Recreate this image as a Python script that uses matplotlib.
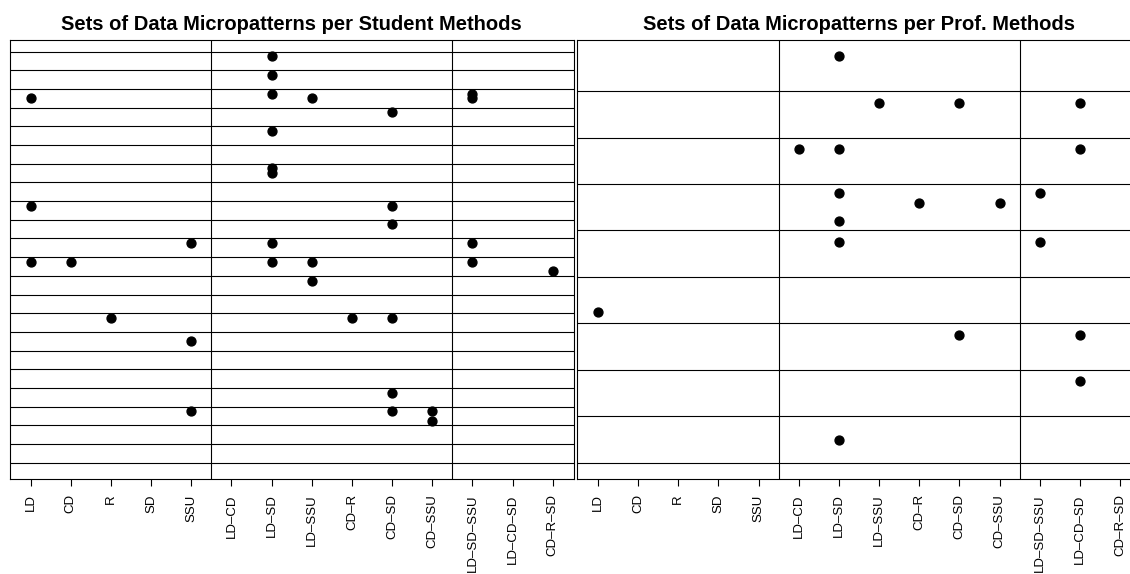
import numpy as np
import matplotlib.pyplot as plt

plt.rcParams['font.family'] = ['Liberation Sans', 'DejaVu Sans']

# micropattern categories on the x axis
patterns = ["LD", "CD", "R", "SD", "SSU",
            "LD\u2013CD", "LD\u2013SD", "LD\u2013SSU", "CD\u2013R", "CD\u2013SD", "CD\u2013SSU",
            "LD\u2013SD\u2013SSU", "LD\u2013CD\u2013SD", "CD\u2013R\u2013SD"]

# student methods: pattern of each point and method row it sits in
student_pat = ["LD", "LD", "LD",
               "CD",
               "R",
               "SSU", "SSU", "SSU",
               "LD\u2013SD", "LD\u2013SD", "LD\u2013SD", "LD\u2013SD", "LD\u2013SD", "LD\u2013SD", "LD\u2013SD", "LD\u2013SD",
               "LD\u2013SSU", "LD\u2013SSU", "LD\u2013SSU",
               "CD\u2013R",
               "CD\u2013SD", "CD\u2013SD", "CD\u2013SD", "CD\u2013SD", "CD\u2013SD", "CD\u2013SD",
               "CD\u2013SSU", "CD\u2013SSU",
               "LD\u2013SD\u2013SSU", "LD\u2013SD\u2013SSU", "LD\u2013SD\u2013SSU", "LD\u2013SD\u2013SSU",
               "CD\u2013R\u2013SD"]
student_row = [3.25, 9, 12,
               12,
               15,
               11, 16.25, 20,
               1, 2, 3, 5, 7, 7.25, 11, 12,
               3.25, 12, 13,
               15,
               4, 9, 10, 15, 19, 20,
               20, 20.5,
               3, 3.25, 11, 12,
               12.5]
student_n = 22

# professional methods
prof_pat = ["LD",
            "LD\u2013CD",
            "LD\u2013SD", "LD\u2013SD", "LD\u2013SD", "LD\u2013SD", "LD\u2013SD", "LD\u2013SD",
            "LD\u2013SSU",
            "CD\u2013R",
            "CD\u2013SD", "CD\u2013SD",
            "CD\u2013SSU",
            "LD\u2013SD\u2013SSU", "LD\u2013SD\u2013SSU",
            "LD\u2013CD\u2013SD", "LD\u2013CD\u2013SD", "LD\u2013CD\u2013SD", "LD\u2013CD\u2013SD"]
prof_row = [6.5,
            3,
            1, 3, 3.95, 4.55, 5, 9.25,
            2,
            4.15,
            2, 7,
            4.15,
            3.95, 5,
            2, 3, 7, 8]
prof_n = 9

W, H = 1130, 574
fig = plt.figure(figsize=(W / 100, H / 100), dpi=100)
ax1 = fig.add_axes([9.8 / W, 1 - 479 / H, 563.8 / W, 439 / H])
ax2 = fig.add_axes([577.1 / W, 1 - 479 / H, 563.8 / W, 439 / H])


def panel(ax, pats, rows, n, title, first_line):
    xs = [patterns.index(p) + 1 for p in pats]
    # separators between the methods
    for yl in np.arange(first_line, n + 0.75 + 0.01, 1.0):
        ax.axhline(yl, color='black', lw=0.8, zorder=1)
    # blocks of single / pair / triple patterns
    for xv in (5.5, 11.5):
        ax.axvline(xv, color='black', lw=0.8, zorder=1)
    ax.plot(xs, rows, 'o', color='black', markersize=6.4, zorder=3)
    span = n + 0.75 - 1
    ax.set_ylim(n + 0.75 + 0.04 * span, 1 - 0.04 * span)
    ax.set_xlim(1 - 0.04 * 13, 14 + 0.04 * 13)
    ax.set_xticks(range(1, 15))
    ax.set_xticklabels(patterns, rotation=90, fontsize=9.5, va='top')
    ax.set_yticks([])
    ax.tick_params(axis='x', length=5, width=0.8, pad=6, color='black')
    for s in ax.spines.values():
        s.set_linewidth(0.8)
        s.set_color('black')
    ax.set_title(title, fontsize=14.5, fontweight='bold', pad=7)


panel(ax1, student_pat, student_row, student_n,
      "Sets of Data Micropatterns per Student Methods", 0.75)
panel(ax2, prof_pat, prof_row, prof_n,
      "Sets of Data Micropatterns per Prof. Methods", 1.75)

fig.savefig("out.png", dpi=100)
